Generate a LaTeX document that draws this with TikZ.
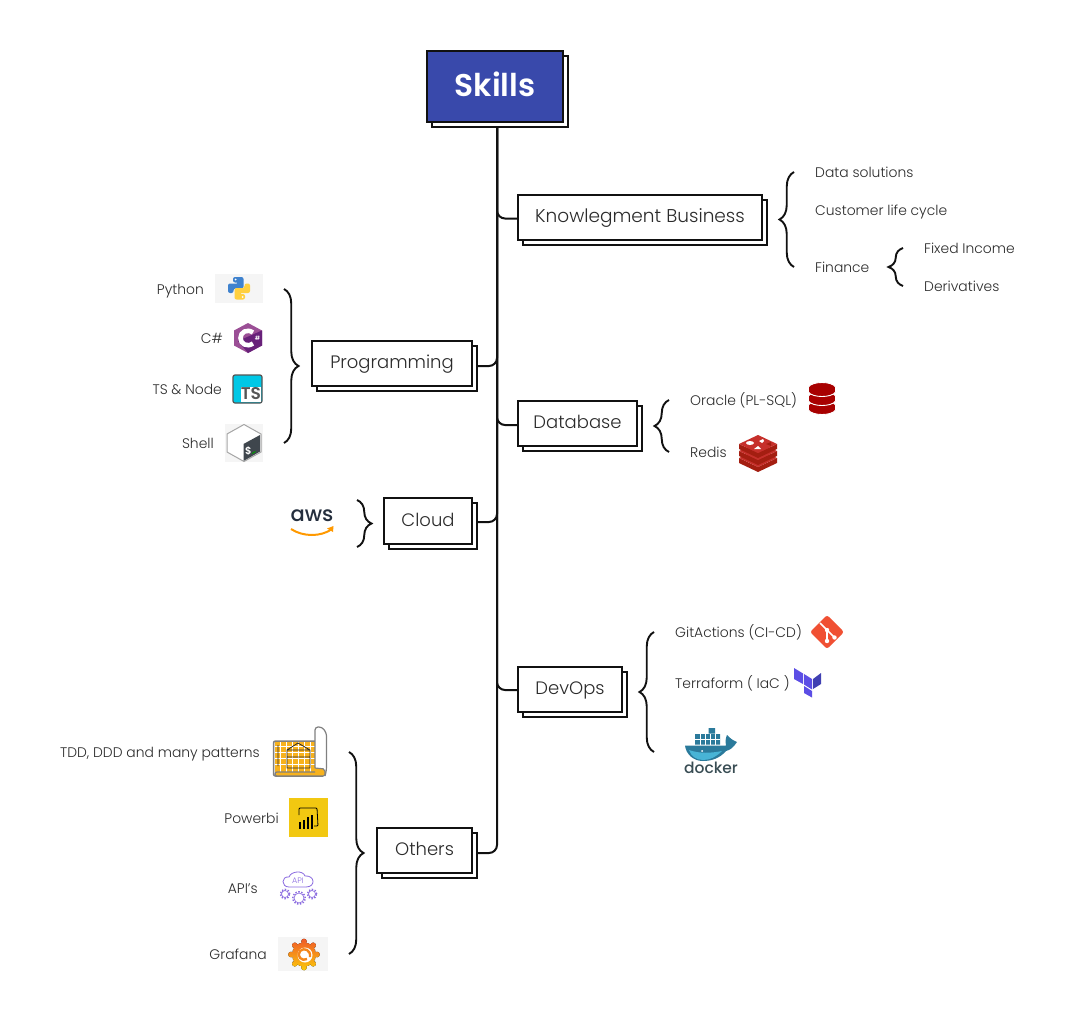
\documentclass[tikz,border=0pt]{standalone}
\usepackage{fontspec}
\setmainfont{Poppins}[UprightFont=* Light, BoldFont=* SemiBold]
\newfontfamily\mediumfont{Poppins Medium}
\usepackage{xcolor}
\usepackage{tikz}
\usetikzlibrary{positioning,arrows.meta,backgrounds,calc,shadows,decorations.pathreplacing}
\definecolor{inkBlack}{HTML}{111111}
\definecolor{textGray}{HTML}{2B2B2B}
\definecolor{skillBlue}{HTML}{3949AB}
\definecolor{paleIcon}{HTML}{F5F5F5}
\definecolor{pyBlue}{HTML}{3F82CE}
\definecolor{pyYellow}{HTML}{FFD040}
\definecolor{oracleRed}{HTML}{A80000}
\definecolor{redisRed}{HTML}{C6302B}
\definecolor{redisDark}{HTML}{A41E11}
\definecolor{gitOrange}{HTML}{F05033}
\definecolor{terraLight}{HTML}{5C4EE5}
\definecolor{terraDark}{HTML}{4040B2}
\definecolor{dockerDark}{HTML}{2B7A9B}
\definecolor{dockerLight}{HTML}{48B4D6}
\definecolor{dockerText}{HTML}{394D54}
\definecolor{planYellow}{HTML}{F7B21E}
\definecolor{biYellow}{HTML}{F2C811}
\definecolor{apiPurple}{HTML}{8A6BE0}
\definecolor{awsNavy}{HTML}{252F3E}
\definecolor{awsOrange}{HTML}{FF9900}
\definecolor{csPurple}{HTML}{9B4F96}
\definecolor{csDark}{HTML}{68217A}
\definecolor{tsCyan}{HTML}{00C8E6}
\definecolor{grafTop}{HTML}{F05A28}
\definecolor{grafBottom}{HTML}{FBCA0A}
\tikzset{
  skillbox/.style={draw=inkBlack, line width=2pt, fill=white, text=textGray, font=\fontsize{18}{20}\selectfont,
    minimum height=45pt, inner sep=0pt, text height=13pt, text depth=3pt,
    copy shadow={shadow xshift=5pt, shadow yshift=-5pt, draw=inkBlack, line width=2pt, fill=white}},
  skilltext/.style={text=textGray, font=\fontsize{13.9}{16}\selectfont, inner sep=0pt, text height=11pt, text depth=1pt},
  link/.style={draw=inkBlack, line width=2pt, rounded corners=8pt},
  bracket/.style={draw=inkBlack, line width=1.9pt, decorate, decoration={brace, amplitude=14.5pt, aspect=0.5}},
}
\begin{document}
\begin{tikzpicture}[x=1pt, y=-1pt]
  \useasboundingbox (0,0) rectangle (1073,1027);

  % Boxes
  \node[skillbox, minimum width=136pt, minimum height=71pt, fill=skillBlue, text=white, text height=24pt,
        font=\fontsize{31.4}{34}\selectfont\bfseries] (skills) at (495,86.5) {Skills};
  \node[skillbox, minimum width=244pt, font=\fontsize{18.5}{20}\selectfont] (knowledge) at (640,217.5) {Knowlegment Business};
  \node[skillbox, minimum width=160pt] (programming) at (392,363.5) {Programming};
  \node[skillbox, minimum width=119pt] (database) at (577.5,423.5) {Database};
  \node[skillbox, minimum width=88pt, minimum height=46pt] (cloud) at (428,521) {Cloud};
  \node[skillbox, minimum width=104pt] (devops) at (570,689.5) {DevOps};
  \node[skillbox, minimum width=95pt] (others) at (424.5,850.5) {Others};

  % Connectors
  \coordinate (trunk) at ([xshift=2pt]skills.south);
  \begin{scope}[on background layer]
    \fill[white] (0,0) rectangle (1073,1027);
    \draw[link] (trunk) |- ([yshift=-1pt]knowledge.west);
    \draw[link] (trunk) |- ([yshift=-2.5pt]programming.east);
    \draw[link] (trunk) |- ([yshift=-1.5pt]database.west);
    \draw[link] (trunk) |- ([yshift=-1pt]cloud.east);
    \draw[link] (trunk) |- ([yshift=-0.5pt]devops.west);
    \draw[link] (trunk) |- ([yshift=-2.5pt]others.east);
  \end{scope}

  % Braces
  \draw[bracket] (794,267) -- (794,172);
  \draw[bracket] (903,286) -- (903,248);
  \draw[bracket] (669,452) -- (669,400);
  \draw[bracket] (654,752) -- (654,632);
  \draw[bracket] (284,289) -- (284,443);
  \draw[bracket] (357,500) -- (357,547);
  \draw[bracket] (349,752) -- (349,954);

  % Labels
  \node[skilltext, anchor=west] (dataSolutions) at (815,172.5) {Data solutions};
  \node[skilltext, anchor=west] (customerCycle) at (815,210) {Customer life cycle};
  \node[skilltext, anchor=west] (finance) at (815,267) {Finance};
  \node[skilltext, anchor=west] (fixedIncome) at (924,248) {Fixed Income};
  \node[skilltext, anchor=west] (derivatives) at (924,286) {Derivatives};
  \node[skilltext, anchor=east] (python) at (204,289) {Python};
  \node[skilltext, anchor=east] (csharp) at (223,338) {C\#};
  \node[skilltext, anchor=east] (tsNode) at (222,389) {TS \& Node};
  \node[skilltext, anchor=east] (shell) at (214,443) {Shell};
  \node[skilltext, anchor=west] (oracle) at (690,400) {Oracle (PL-SQL)};
  \node[skilltext, anchor=west] (redis) at (690,452) {Redis};
  \node[skilltext, anchor=west] (gitActions) at (675,632) {GitActions (CI-CD)};
  \node[skilltext, anchor=west] (terraform) at (675,683) {Terraform ( IaC )};
  \node[skilltext, anchor=east] (patterns) at (260,752) {TDD, DDD and many patterns};
  \node[skilltext, anchor=east] (powerbi) at (279,818) {Powerbi};
  \node[skilltext, anchor=east] (apis) at (258,888) {API's};
  \node[skilltext, anchor=east] (grafana) at (267,954) {Grafana};

  % Python icon
  \fill[paleIcon] (215,274) rectangle (263,303);
  \fill[pyBlue, rounded corners=2pt] (233,277) -- (243.5,277) -- (243.5,288.5) -- (233.5,288.5) -- (233.5,293) -- (228,293) -- (228,283.5) -- (238.5,283.5) -- (238.5,282.5) -- (233,282.5) -- cycle;
  \fill[pyYellow, rounded corners=2pt] (245,299.5) -- (234.5,299.5) -- (234.5,288) -- (244.5,288) -- (244.5,283.5) -- (250,283.5) -- (250,293) -- (239.5,293) -- (239.5,294) -- (245,294) -- cycle;
  \fill[white] (235.5,279.5) circle (1pt) (242.5,297) circle (1pt);

  % C# icon
  \fill[csPurple] (248,323) -- (262,330.5) -- (262,345.5) -- (248,353) -- (234,345.5) -- (234,330.5) -- cycle;
  \fill[csDark] (262,330.5) -- (262,345.5) -- (248,353) -- (238,341) -- cycle;
  \draw[white, line width=4.6pt] (253,332.5) .. controls (247,328.5) and (240.5,332) .. (240.5,338) .. controls (240.5,344) and (247,347.5) .. (253,343.5);
  \node[text=white, font=\fontsize{6}{7}\selectfont\bfseries, inner sep=0pt] (csharpMark) at (257.5,338) {\#};

  % TS icon
  \draw[textGray!80, line width=1.2pt, fill=tsCyan, rounded corners=2pt] (233,375) rectangle (262,403);
  \fill[white] (241,387) rectangle (261,402.3);
  \node[text=textGray!80, font=\fontsize{17}{18}\selectfont\bfseries, inner sep=0pt] (tsMark) at (251,394) {TS};

  % Shell icon
  \fill[paleIcon] (225,424) rectangle (263,462);
  \draw[gray!70, line width=1pt, fill=white] (244,424.5) -- (261,434) -- (261,452) -- (244,461.5) -- (227,452) -- (227,434) -- cycle;
  \fill[black!80!cyan] (243.5,444) -- (260,435) -- (260,451.5) -- (243.5,461) -- cycle;
  \node[text=white, font=\fontsize{10}{11}\selectfont\bfseries, inner sep=0pt] (shellMark) at (248.5,450.5) {\$};
  \draw[green!60!black, line width=1pt] (252,453.5) -- (255.5,451.5);

  % AWS icon
  \node[text=awsNavy, font=\fontsize{21}{24}\mediumfont, inner sep=0pt] (awsMark) at (312,516) {aws};
  \draw[awsOrange, line width=2pt] (291,529) .. controls (303,537) and (321,537) .. (332,529);
  \fill[awsOrange] (333.5,526) -- (333,532) -- (327,528.5) -- cycle;

  % Oracle icon
  \foreach \y in {405,396,387}{
    \path[fill=oracleRed, draw=white, line width=0.9pt] (808.5,\y) -- (808.5,\y+5) .. controls (812,\y+11) and (832,\y+11) .. (835.5,\y+5) -- (835.5,\y) .. controls (832,\y-6) and (812,\y-6) .. (808.5,\y) -- cycle;
  }

  % Redis icon
  \foreach \y in {14,7,0}{
    \fill[redisDark] (739,444+\y) -- (758,453+\y) -- (777,444+\y) -- (777,449+\y) -- (758,458+\y) -- (739,449+\y) -- cycle;
    \fill[redisRed] (758,435+\y) -- (777,444+\y) -- (758,453+\y) -- (739,444+\y) -- cycle;
  }
  \fill[white] (750,443) ellipse [x radius=4, y radius=2];
  \fill[white] (759,441) -- (763,439) -- (764,441) -- (762,443) -- cycle;
  \fill[white] (754,449) -- (761,449) -- (758,446) -- cycle;
  \fill[redisDark] (766,444) -- (771,442) -- (771,446) -- cycle;

  % Git icon
  \fill[gitOrange, rounded corners=2.5pt] (827,615) -- (844,632) -- (827,649) -- (810,632) -- cycle;
  \draw[white, line width=1.6pt] (820,623) -- (834.5,637.5) (827,630) -- (827,641);
  \fill[white] (827,630) circle (2.2pt) (827,641) circle (2.2pt) (834.5,637.5) circle (2.2pt);

  % Terraform icon
  \fill[terraLight] (794,668) -- (803,673.5) -- (803,684) -- (794,679) -- cycle;
  \fill[terraLight] (804,674) -- (812,679) -- (812,689.5) -- (804,684.5) -- cycle;
  \fill[terraDark] (813,679) -- (821,673) -- (821,684) -- (813,689) -- cycle;
  \fill[terraLight] (804,686) -- (812,691) -- (812,697.5) -- (804,693) -- cycle;

  % Docker icon
  \fill[dockerDark] (695,734) rectangle (720,744.5) (708.5,728) rectangle (715,733.5);
  \draw[white, line width=0.5pt] (695,739) -- (720,739) (700,734) -- (700,744.5) (705,734) -- (705,744.5) (710,734) -- (710,744.5) (715,734) -- (715,744.5);
  \fill[dockerDark] (685,745.5) -- (726,745.5) .. controls (725,741) and (726,737) .. (727,735) .. controls (730,738) and (732,740) .. (737,742) .. controls (733,748) and (730,750) .. (726,751) .. controls (720,758) and (712,761) .. (703,761) .. controls (693,761) and (686,754) .. (685,745.5) -- cycle;
  \fill[dockerLight] (689,750) .. controls (700,754) and (712,753) .. (722,751) .. controls (716,757) and (710,760) .. (703,760) .. controls (696,760) and (691,756) .. (689,750) -- cycle;
  \fill[white] (702,751) circle (1pt);
  \node[text=dockerText, font=\fontsize{15.5}{18}\mediumfont, inner sep=0pt] (dockerMark) at (711,768) {docker};

  % Blueprint icon
  \fill[planYellow] (275,741) rectangle (315,772);
  \foreach \x in {280,286,292,298,304,310}{ \draw[white, line width=0.4pt] (\x,741) -- (\x,772); }
  \foreach \y in {746,752,758,764}{ \draw[white, line width=0.4pt] (275,\y) -- (315,\y); }
  \draw[textGray, line width=0.8pt] (287,768) rectangle (310,757) (287,757) -- (287,750) -- (298,743) -- (310,750) -- (310,768) (287,750) -- (310,750) (278,745) -- (278,766);
  \draw[gray, line width=1.5pt, rounded corners=2pt] (315,741) -- (273.5,741) -- (273.5,776) -- (323,776);
  \draw[gray, line width=1.2pt, fill=white, rounded corners=3pt] (315,768) -- (315,727) -- (322,727) -- (326.5,733) -- (326.5,770) -- (325,776);
  \draw[gray, line width=1.2pt, fill=planYellow, rounded corners=2pt] (315,768) -- (325,769) -- (325,776) -- (275,776) -- (275,772) -- (315,772);

  % Powerbi icon
  \fill[biYellow] (289,798) rectangle (328,837);
  \draw[black, line width=0.8pt, rounded corners=1pt] (299,815) -- (299,808) -- (317,808) -- (318,826) -- (314,826);
  \foreach \x/\t in {300/822, 304/820, 308/817, 312/815}{ \fill[black] (\x-1.3,\t) rectangle (\x+1.3,829); }

  % API icon
  \draw[apiPurple, line width=0.8pt] (289,887) .. controls (281,887) and (281,876) .. (289,877) .. controls (291,871) and (303,870) .. (305,876) .. controls (315,875) and (316,887) .. (306,887) -- cycle;
  \node[text=apiPurple, font=\fontsize{8}{9}\selectfont, inner sep=0pt] (apiMark) at (298,881) {API};
  \foreach \x/\y/\r in {285/894/3.5, 312/894/3.5, 299/898/5}{
    \draw[apiPurple, line width=0.7pt] (\x,\y) circle (\r pt);
    \draw[apiPurple, line width=1.4pt, dash pattern=on 1.4pt off 1.6pt] (\x,\y) circle (\r pt + 1.2pt);
  }

  % Grafana icon
  \fill[paleIcon] (278,937) rectangle (328,971);
  \fill[top color=grafTop, bottom color=grafBottom] (304,954.5) circle (12pt)
    foreach \a in {0,45,...,315}{ ($(304,954.5)+(\a:13pt)$) circle (2.8pt) };
  \fill[white] (305,955) circle (7.5pt);
  \draw[grafTop!60!grafBottom, line width=2.4pt] (310,957) .. controls (311,950) and (304,947) .. (300,951) .. controls (296,956) and (302,962) .. (307,959);
\end{tikzpicture}
\end{document}
